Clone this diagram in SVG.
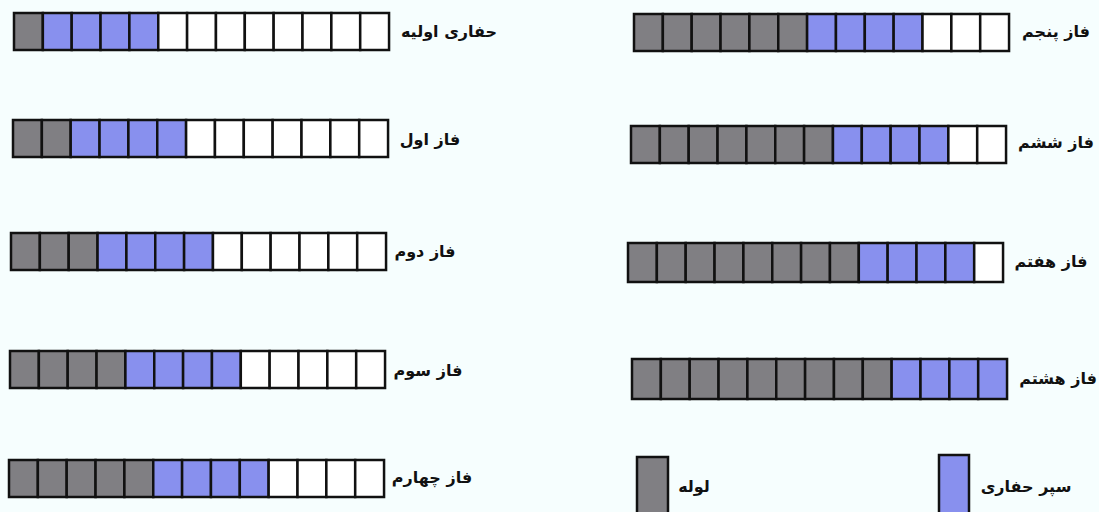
<svg xmlns="http://www.w3.org/2000/svg" width="1099" height="512" viewBox="0 0 1099 512">
<style>
.bg{fill:#f6fefe}
.c{stroke:#111;stroke-width:2.5}
.p{fill:#807f83}
.s{fill:#8890ee}
.e{fill:#ffffff}
.t{font-family:"DejaVu Sans",sans-serif;font-weight:bold;font-size:16px;fill:#111;text-anchor:middle;dominant-baseline:central}
</style>
<rect class="bg" width="1099" height="512"/>
<g id="row-initial">
<rect class="c p" x="14" y="13" width="28.85" height="37"/>
<rect class="c s" x="42.85" y="13" width="28.85" height="37"/>
<rect class="c s" x="71.7" y="13" width="28.85" height="37"/>
<rect class="c s" x="100.55" y="13" width="28.85" height="37"/>
<rect class="c s" x="129.4" y="13" width="28.85" height="37"/>
<rect class="c e" x="158.25" y="13" width="28.85" height="37"/>
<rect class="c e" x="187.1" y="13" width="28.85" height="37"/>
<rect class="c e" x="215.95" y="13" width="28.85" height="37"/>
<rect class="c e" x="244.8" y="13" width="28.85" height="37"/>
<rect class="c e" x="273.65" y="13" width="28.85" height="37"/>
<rect class="c e" x="302.5" y="13" width="28.85" height="37"/>
<rect class="c e" x="331.35" y="13" width="28.85" height="37"/>
<rect class="c e" x="360.2" y="13" width="28.85" height="37"/>
<text class="t" x="449" y="31">حفاری اولیه</text>
</g>
<g id="row-phase1">
<rect class="c p" x="13" y="120" width="28.85" height="37"/>
<rect class="c p" x="41.85" y="120" width="28.85" height="37"/>
<rect class="c s" x="70.7" y="120" width="28.85" height="37"/>
<rect class="c s" x="99.55" y="120" width="28.85" height="37"/>
<rect class="c s" x="128.4" y="120" width="28.85" height="37"/>
<rect class="c s" x="157.25" y="120" width="28.85" height="37"/>
<rect class="c e" x="186.1" y="120" width="28.85" height="37"/>
<rect class="c e" x="214.95" y="120" width="28.85" height="37"/>
<rect class="c e" x="243.8" y="120" width="28.85" height="37"/>
<rect class="c e" x="272.65" y="120" width="28.85" height="37"/>
<rect class="c e" x="301.5" y="120" width="28.85" height="37"/>
<rect class="c e" x="330.35" y="120" width="28.85" height="37"/>
<rect class="c e" x="359.2" y="120" width="28.85" height="37"/>
<text class="t" x="430" y="139">فاز اول</text>
</g>
<g id="row-phase2">
<rect class="c p" x="11" y="233" width="28.85" height="37"/>
<rect class="c p" x="39.85" y="233" width="28.85" height="37"/>
<rect class="c p" x="68.7" y="233" width="28.85" height="37"/>
<rect class="c s" x="97.55" y="233" width="28.85" height="37"/>
<rect class="c s" x="126.4" y="233" width="28.85" height="37"/>
<rect class="c s" x="155.25" y="233" width="28.85" height="37"/>
<rect class="c s" x="184.1" y="233" width="28.85" height="37"/>
<rect class="c e" x="212.95" y="233" width="28.85" height="37"/>
<rect class="c e" x="241.8" y="233" width="28.85" height="37"/>
<rect class="c e" x="270.65" y="233" width="28.85" height="37"/>
<rect class="c e" x="299.5" y="233" width="28.85" height="37"/>
<rect class="c e" x="328.35" y="233" width="28.85" height="37"/>
<rect class="c e" x="357.2" y="233" width="28.85" height="37"/>
<text class="t" x="425" y="251">فاز دوم</text>
</g>
<g id="row-phase3">
<rect class="c p" x="10" y="351" width="28.85" height="37"/>
<rect class="c p" x="38.85" y="351" width="28.85" height="37"/>
<rect class="c p" x="67.7" y="351" width="28.85" height="37"/>
<rect class="c p" x="96.55" y="351" width="28.85" height="37"/>
<rect class="c s" x="125.4" y="351" width="28.85" height="37"/>
<rect class="c s" x="154.25" y="351" width="28.85" height="37"/>
<rect class="c s" x="183.1" y="351" width="28.85" height="37"/>
<rect class="c s" x="211.95" y="351" width="28.85" height="37"/>
<rect class="c e" x="240.8" y="351" width="28.85" height="37"/>
<rect class="c e" x="269.65" y="351" width="28.85" height="37"/>
<rect class="c e" x="298.5" y="351" width="28.85" height="37"/>
<rect class="c e" x="327.35" y="351" width="28.85" height="37"/>
<rect class="c e" x="356.2" y="351" width="28.85" height="37"/>
<text class="t" x="428" y="370">فاز سوم</text>
</g>
<g id="row-phase4">
<rect class="c p" x="9" y="460" width="28.85" height="37"/>
<rect class="c p" x="37.85" y="460" width="28.85" height="37"/>
<rect class="c p" x="66.7" y="460" width="28.85" height="37"/>
<rect class="c p" x="95.55" y="460" width="28.85" height="37"/>
<rect class="c p" x="124.4" y="460" width="28.85" height="37"/>
<rect class="c s" x="153.25" y="460" width="28.85" height="37"/>
<rect class="c s" x="182.1" y="460" width="28.85" height="37"/>
<rect class="c s" x="210.95" y="460" width="28.85" height="37"/>
<rect class="c s" x="239.8" y="460" width="28.85" height="37"/>
<rect class="c e" x="268.65" y="460" width="28.85" height="37"/>
<rect class="c e" x="297.5" y="460" width="28.85" height="37"/>
<rect class="c e" x="326.35" y="460" width="28.85" height="37"/>
<rect class="c e" x="355.2" y="460" width="28.85" height="37"/>
<text class="t" x="432" y="477">فاز چهارم</text>
</g>
<g id="row-phase5">
<rect class="c p" x="634" y="14" width="28.85" height="37"/>
<rect class="c p" x="662.85" y="14" width="28.85" height="37"/>
<rect class="c p" x="691.7" y="14" width="28.85" height="37"/>
<rect class="c p" x="720.55" y="14" width="28.85" height="37"/>
<rect class="c p" x="749.4" y="14" width="28.85" height="37"/>
<rect class="c p" x="778.25" y="14" width="28.85" height="37"/>
<rect class="c s" x="807.1" y="14" width="28.85" height="37"/>
<rect class="c s" x="835.95" y="14" width="28.85" height="37"/>
<rect class="c s" x="864.8" y="14" width="28.85" height="37"/>
<rect class="c s" x="893.65" y="14" width="28.85" height="37"/>
<rect class="c e" x="922.5" y="14" width="28.85" height="37"/>
<rect class="c e" x="951.35" y="14" width="28.85" height="37"/>
<rect class="c e" x="980.2" y="14" width="28.85" height="37"/>
<text class="t" x="1056" y="31">فاز پنجم</text>
</g>
<g id="row-phase6">
<rect class="c p" x="631" y="126" width="28.85" height="37"/>
<rect class="c p" x="659.85" y="126" width="28.85" height="37"/>
<rect class="c p" x="688.7" y="126" width="28.85" height="37"/>
<rect class="c p" x="717.55" y="126" width="28.85" height="37"/>
<rect class="c p" x="746.4" y="126" width="28.85" height="37"/>
<rect class="c p" x="775.25" y="126" width="28.85" height="37"/>
<rect class="c p" x="804.1" y="126" width="28.85" height="37"/>
<rect class="c s" x="832.95" y="126" width="28.85" height="37"/>
<rect class="c s" x="861.8" y="126" width="28.85" height="37"/>
<rect class="c s" x="890.65" y="126" width="28.85" height="37"/>
<rect class="c s" x="919.5" y="126" width="28.85" height="37"/>
<rect class="c e" x="948.35" y="126" width="28.85" height="37"/>
<rect class="c e" x="977.2" y="126" width="28.85" height="37"/>
<text class="t" x="1056" y="142">فاز ششم</text>
</g>
<g id="row-phase7">
<rect class="c p" x="628" y="243" width="28.85" height="39"/>
<rect class="c p" x="656.85" y="243" width="28.85" height="39"/>
<rect class="c p" x="685.7" y="243" width="28.85" height="39"/>
<rect class="c p" x="714.55" y="243" width="28.85" height="39"/>
<rect class="c p" x="743.4" y="243" width="28.85" height="39"/>
<rect class="c p" x="772.25" y="243" width="28.85" height="39"/>
<rect class="c p" x="801.1" y="243" width="28.85" height="39"/>
<rect class="c p" x="829.95" y="243" width="28.85" height="39"/>
<rect class="c s" x="858.8" y="243" width="28.85" height="39"/>
<rect class="c s" x="887.65" y="243" width="28.85" height="39"/>
<rect class="c s" x="916.5" y="243" width="28.85" height="39"/>
<rect class="c s" x="945.35" y="243" width="28.85" height="39"/>
<rect class="c e" x="974.2" y="243" width="28.85" height="39"/>
<text class="t" x="1051" y="261">فاز هفتم</text>
</g>
<g id="row-phase8">
<rect class="c p" x="632" y="359" width="28.85" height="40"/>
<rect class="c p" x="660.85" y="359" width="28.85" height="40"/>
<rect class="c p" x="689.7" y="359" width="28.85" height="40"/>
<rect class="c p" x="718.55" y="359" width="28.85" height="40"/>
<rect class="c p" x="747.4" y="359" width="28.85" height="40"/>
<rect class="c p" x="776.25" y="359" width="28.85" height="40"/>
<rect class="c p" x="805.1" y="359" width="28.85" height="40"/>
<rect class="c p" x="833.95" y="359" width="28.85" height="40"/>
<rect class="c p" x="862.8" y="359" width="28.85" height="40"/>
<rect class="c s" x="891.65" y="359" width="28.85" height="40"/>
<rect class="c s" x="920.5" y="359" width="28.85" height="40"/>
<rect class="c s" x="949.35" y="359" width="28.85" height="40"/>
<rect class="c s" x="978.2" y="359" width="28.85" height="40"/>
<text class="t" x="1058" y="378">فاز هشتم</text>
</g>
<g id="legend-pipe">
<rect class="c p" x="637" y="457" width="31" height="60"/>
<text class="t" x="694" y="486">لوله</text>
</g>
<g id="legend-shield">
<rect class="c s" x="939" y="455" width="30" height="62"/>
<text class="t" x="1026" y="486">سپر حفاری</text>
</g>
</svg>
